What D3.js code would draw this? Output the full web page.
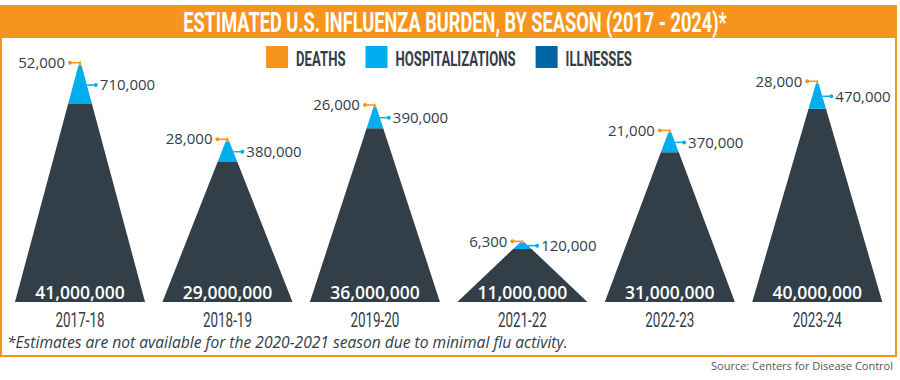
<!DOCTYPE html>
<html><head><meta charset="utf-8">
<script src="https://cdn.jsdelivr.net/npm/d3@7"></script>
<style>body{margin:0;background:#fff}</style>
</head><body><svg id="c" width="900" height="380"></svg>
<script>
const seasons = ["2017-18","2018-19","2019-20","2021-22","2022-23","2023-24"];
const illnesses = [41000000,29000000,36000000,11000000,31000000,40000000];
const hospitalizations = [710000,380000,390000,120000,370000,470000];
const deaths = [52000,28000,26000,6300,21000,28000];
const legendLabels = ["DEATHS","HOSPITALIZATIONS","ILLNESSES"];
const title = "ESTIMATED U.S. INFLUENZA BURDEN, BY SEASON (2017 - 2024)*";
const footnote = "*Estimates are not available for the 2020-2021 season due to minimal flu activity.";
const source = "Source: Centers for Disease Control";

const ORANGE = "#f7941d", CYAN = "#00aeef", BLUE = "#0067a5", SLATE = "#333f48", TXT = "#333d47";
const legendColors = [ORANGE, CYAN, BLUE];
const fmt = d3.format(",");
const svg = d3.select("#c");

// frame
svg.append("rect").attr("x",1).attr("y",6).attr("width",895).attr("height",350)
  .attr("fill","none").attr("stroke",ORANGE).attr("stroke-width",2);
svg.append("rect").attr("x",1).attr("y",5).attr("width",895).attr("height",33).attr("fill",ORANGE);
const tg = svg.append("g");
const tt = tg.append("text").attr("x",0).attr("y",0).attr("text-anchor","middle")
  .attr("font-family","Roboto").attr("font-weight",700).attr("font-size",27)
  .attr("fill","#fff").text(title);
const tsx = 544 / tt.node().getComputedTextLength();
tg.attr("transform",`translate(455,32) scale(${tsx},1)`);

// legend
const lg = svg.append("g");
const LSX = 0.64;
let lx = 0;
legendLabels.forEach((lab,i)=>{
  const g = lg.append("g").attr("transform",`translate(${lx},0)`);
  g.append("rect").attr("x",0).attr("y",46).attr("width",22).attr("height",22).attr("fill",legendColors[i]);
  const tgi = g.append("g");
  const t = tgi.append("text").attr("x",0).attr("y",0)
    .attr("font-family","Roboto").attr("font-weight",700).attr("font-size",20.5)
    .attr("fill",TXT).text(lab);
  const w = t.node().getComputedTextLength()*LSX;
  tgi.attr("transform",`translate(30,66) scale(${LSX},1)`);
  lx += 30 + w + 20;
});
const lw = lx - 20;
lg.attr("transform",`translate(${449 - lw/2},0)`);

// scales
const baseY = 302;
const x = d3.scaleBand().domain(seasons).range([6.3, 891]).paddingInner(0.118).paddingOuter(0.059);
const yI = d3.scaleLinear().domain([0,41000000]).range([0,198]);
const yH = d3.scaleLinear().domain([0,710000]).range([0,38]);
const yD = d3.scaleSqrt().domain([0,52000]).range([0,6.5]);

seasons.forEach((s,i)=>{
  const bw = x.bandwidth(), cx = x(s) + bw/2, half = bw/2;
  const hI = yI(illnesses[i]), hH = yH(hospitalizations[i]), hD = yD(deaths[i]);
  const apex = baseY - hI - hH - hD;
  const y1 = apex + hD, y2 = y1 + hH;
  const hw = y => half*(y-apex)/(baseY-apex);
  const g = svg.append("g");
  const poly = pts => g.append("polygon").attr("points", pts.map(p=>p.join(",")).join(" "));
  poly([[cx-hw(y2),y2],[cx+hw(y2),y2],[cx+half,baseY],[cx-half,baseY]]).attr("fill",SLATE);
  poly([[cx-hw(y1),y1],[cx+hw(y1),y1],[cx+hw(y2),y2],[cx-hw(y2),y2]]).attr("fill",CYAN);
  poly([[cx,apex],[cx+hw(y1),y1],[cx-hw(y1),y1]]).attr("fill",ORANGE);

  // deaths label
  const dy = (apex+y1)/2;
  g.append("line").attr("x1",cx-10).attr("x2",cx).attr("y1",dy).attr("y2",dy).attr("stroke",ORANGE).attr("stroke-width",1.5);
  g.append("circle").attr("cx",cx-10).attr("cy",dy).attr("r",2).attr("fill",ORANGE);
  g.append("text").attr("x",cx-15).attr("y",dy).attr("dy","0.35em").attr("text-anchor","end")
    .attr("font-family","Open Sans").attr("font-size",15).attr("fill",TXT).text(fmt(deaths[i]));
  // hospitalizations label
  const hy = (y1+y2)/2, ex = cx + hw(hy);
  g.append("line").attr("x1",ex).attr("x2",ex+9).attr("y1",hy).attr("y2",hy).attr("stroke",CYAN).attr("stroke-width",1.5);
  g.append("circle").attr("cx",ex+9).attr("cy",hy).attr("r",2).attr("fill",CYAN);
  g.append("text").attr("x",ex+13).attr("y",hy).attr("dy","0.35em")
    .attr("font-family","Open Sans").attr("font-size",15).attr("fill",TXT).text(fmt(hospitalizations[i]));
  // illnesses label
  g.append("text").attr("x",cx).attr("y",299).attr("text-anchor","middle")
    .attr("font-family","Open Sans").attr("font-weight",600).attr("font-size",17.5).attr("fill","#fff").text(fmt(illnesses[i]));
  // season
  g.append("text").attr("x",cx).attr("y",327).attr("text-anchor","middle")
    .attr("font-family","Roboto").attr("font-weight",400).attr("font-size",20).attr("fill",TXT)
    .attr("textLength",49).attr("lengthAdjust","spacingAndGlyphs").text(s);
});

svg.append("text").attr("x",7).attr("y",348).attr("font-family","Open Sans").attr("font-style","italic")
  .attr("font-size",15.6).attr("fill",TXT).text(footnote);
svg.append("text").attr("x",893).attr("y",370).attr("text-anchor","end").attr("font-family","Open Sans")
  .attr("font-size",11).attr("fill","#555").text(source);
</script></body></html>
